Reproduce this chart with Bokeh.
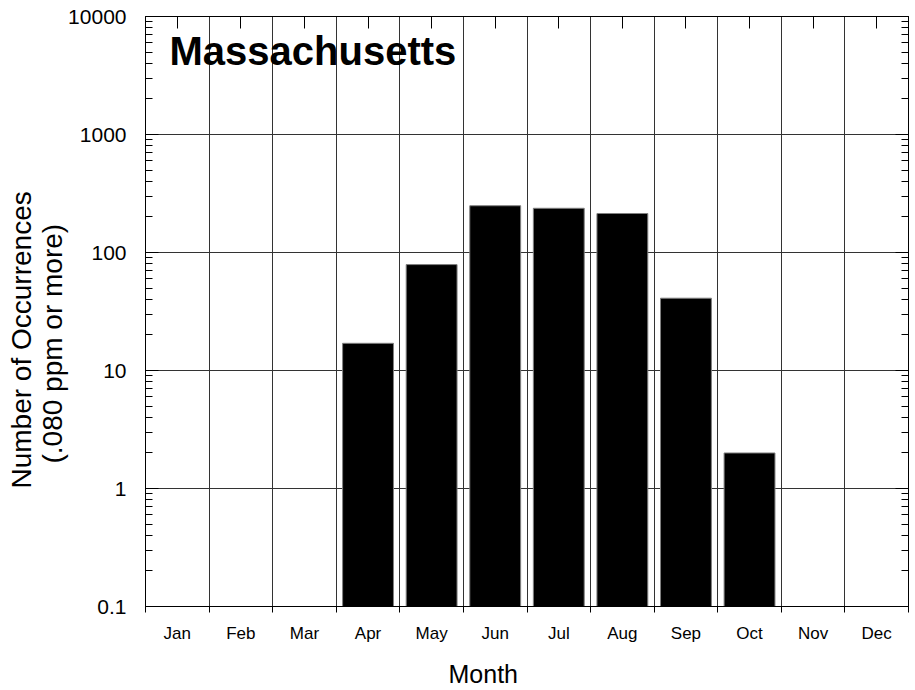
from math import pi
from bokeh.plotting import figure
from bokeh.models import (Range1d, FixedTicker, LinearAxis, LogAxis, Label, Title,
                          ColumnDataSource, PrintfTickFormatter, CustomJSTickFormatter)
from bokeh.embed import file_html
from bokeh.resources import INLINE

# ---- data ----
months = ["Jan", "Feb", "Mar", "Apr", "May", "Jun",
          "Jul", "Aug", "Sep", "Oct", "Nov", "Dec"]
counts = [0, 0, 0, 17, 79, 249, 237, 214, 41, 2, 0, 0]
y_ticks = [0.1, 1, 10, 100, 1000, 10000]
chart_title = "Massachusetts"
x_title = "Month"
y_title_1 = "Number of Occurrences"
y_title_2 = "(.080 ppm or more)"

FONT = "Liberation Sans"

centers = [i + 0.5 for i in range(len(months))]
bounds = list(range(len(months) + 1))
minor_y = [m * 10 ** k for k in range(-1, 4) for m in range(2, 10)]

src = ColumnDataSource(dict(
    x=[c for c, v in zip(centers, counts) if v > 0],
    top=[v for v in counts if v > 0],
))

p = figure(frame_width=763, frame_height=590,
           x_range=Range1d(0, len(months)), y_range=Range1d(y_ticks[0], y_ticks[-1]),
           y_axis_type="log", output_backend="svg", toolbar_location=None,
           min_border_left=145, min_border_top=16, min_border_bottom=84,
           min_border_right=2)
p.outline_line_color = "black"
p.outline_line_alpha = 1.0

blank = CustomJSTickFormatter(code="return ''")

# bottom axis: labels at month centres, boundary ticks as minor ticks
xa = p.xaxis[0]
xa.ticker = FixedTicker(ticks=centers, minor_ticks=bounds)
xa.major_label_overrides = {c: m for c, m in zip(centers, months)}
xa.major_tick_in = 0
xa.major_tick_out = 0
xa.minor_tick_in = 0
xa.minor_tick_out = 6
xa.major_label_standoff = 11
xa.major_label_text_font = FONT
xa.major_label_text_font_size = "17px"
xa.major_label_text_color = "black"
xa.axis_line_color = "black"
xa.minor_tick_line_color = "black"

# left axis
ya = p.yaxis[0]
ya.ticker = FixedTicker(ticks=y_ticks, minor_ticks=minor_y)
ya.formatter = PrintfTickFormatter(format="%g")
ya.major_tick_in = 13
ya.major_tick_out = 0
ya.minor_tick_in = 7
ya.minor_tick_out = 0
ya.major_label_standoff = 19
ya.major_label_text_font = FONT
ya.major_label_text_font_size = "21px"
ya.major_label_text_color = "black"
ya.axis_line_color = "black"
ya.major_tick_line_color = "black"
ya.minor_tick_line_color = "black"

# right axis (ticks only)
ra = LogAxis(ticker=FixedTicker(ticks=y_ticks, minor_ticks=minor_y),
             formatter=blank,
             major_tick_in=13, major_tick_out=0, minor_tick_in=7, minor_tick_out=0,
             major_label_standoff=0,
             axis_line_color="black", major_tick_line_color="black",
             minor_tick_line_color="black")
p.add_layout(ra, "right")

# top axis (ticks at month centres)
ta = LinearAxis(ticker=FixedTicker(ticks=centers, minor_ticks=[]),
                formatter=blank,
                major_tick_in=12, major_tick_out=0, major_label_standoff=0,
                axis_line_color="black", major_tick_line_color="black")
p.add_layout(ta, "above")

# invisible spacer axis below the month labels
spacer = LinearAxis(ticker=FixedTicker(ticks=[centers[5]], minor_ticks=[]), formatter=blank,
                    axis_line_color=None, major_tick_line_color=None,
                    major_tick_in=0, major_tick_out=12,
                    minor_tick_in=0, minor_tick_out=0, major_label_standoff=0,
                    major_label_text_font_size="1px")
p.add_layout(spacer, "below")

# axis titles
p.add_layout(Title(text=x_title, align="left", offset=303, standoff=0,
                   vertical_align="bottom", text_font=FONT, text_font_size="25px",
                   text_font_style="normal", text_color="black"), "below")
p.add_layout(Title(text=y_title_2, align="left", offset=143, standoff=-4,
                   vertical_align="bottom", text_font=FONT, text_font_size="28px",
                   text_font_style="normal", text_color="black"), "left")
p.add_layout(Title(text=y_title_1, align="left", offset=118, standoff=0,
                   vertical_align="bottom", text_font=FONT, text_font_size="28px",
                   text_font_style="normal", text_color="black"), "left")

# grids
p.xgrid.ticker = FixedTicker(ticks=bounds[1:-1])
p.xgrid.grid_line_color = "#333333"
p.xgrid.grid_line_alpha = 1.0
p.ygrid.ticker = FixedTicker(ticks=y_ticks[1:-1])
p.ygrid.grid_line_color = "#333333"
p.ygrid.grid_line_alpha = 1.0

# bars
p.vbar(x="x", top="top", bottom=y_ticks[0], width=0.8, source=src,
       fill_color="black", line_color="#808080", line_width=1)

# chart title inside the frame
p.add_layout(Label(x=24, y=556, x_units="screen", y_units="screen",
                   text=chart_title, text_font=FONT, text_font_size="40px",
                   text_font_style="bold", text_color="black",
                   text_baseline="middle", text_align="left"))

open("out.html", "w").write(file_html(p, INLINE))
